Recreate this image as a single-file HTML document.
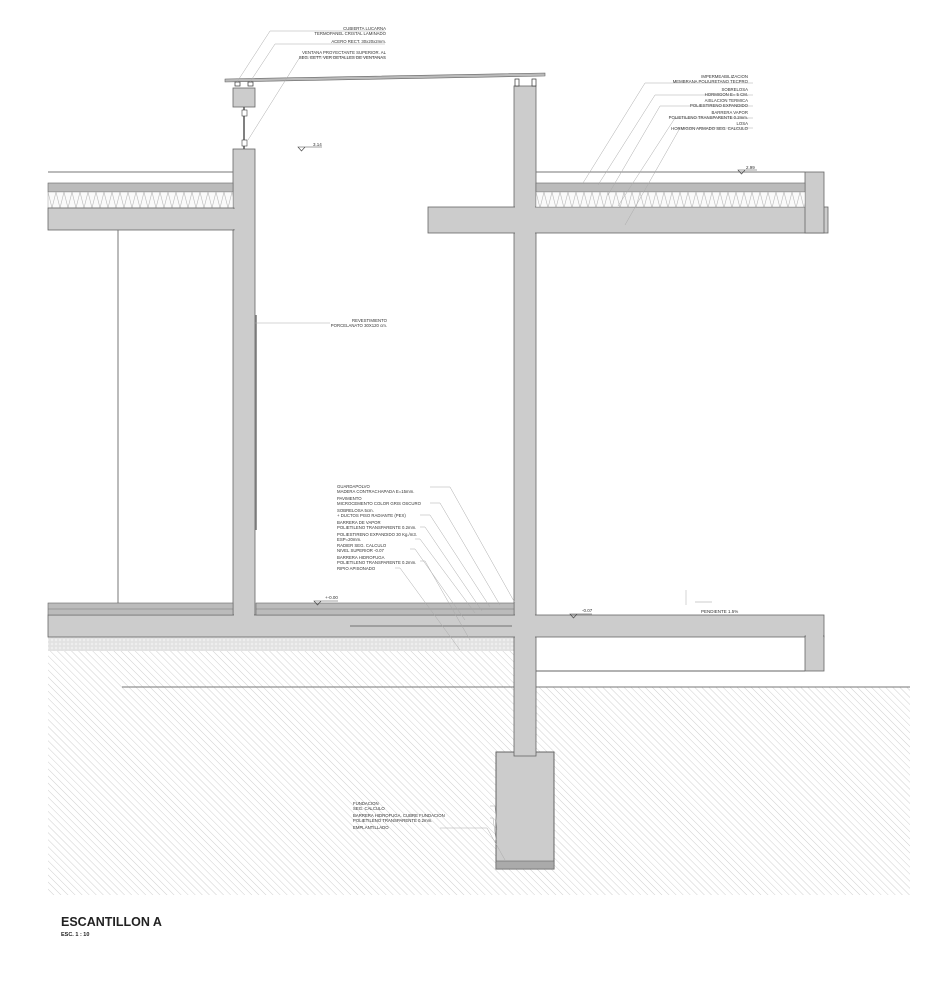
<!DOCTYPE html>
<html><head><meta charset="utf-8"><style>
html,body{margin:0;padding:0;background:#fff;width:952px;height:1000px;overflow:hidden}
svg text{font-family:"Liberation Sans",sans-serif;fill:#333}
</style></head><body>
<svg width="952" height="1000" viewBox="0 0 952 1000" xmlns="http://www.w3.org/2000/svg">
<defs>
<pattern id="hatch" width="5" height="5" patternUnits="userSpaceOnUse" patternTransform="rotate(-45)">
<line x1="0" y1="0" x2="0" y2="5" stroke="#c4c4c4" stroke-width="0.8"/></pattern>
<pattern id="grav" width="4" height="4" patternUnits="userSpaceOnUse">
<rect width="4" height="4" fill="#eee"/><circle cx="2" cy="2" r="1.2" fill="none" stroke="#c9c9c9" stroke-width="0.5"/></pattern>
<pattern id="zig" width="8" height="16" patternUnits="userSpaceOnUse">
<rect width="8" height="16" fill="#fafafa"/><path d="M0 0 L4 16 L8 0" fill="none" stroke="#bbb" stroke-width="0.6"/></pattern>
</defs>
<!-- soil -->
<rect x="48" y="650" width="466" height="245" fill="url(#hatch)"/>
<rect x="514" y="687" width="396" height="208" fill="url(#hatch)"/>
<rect x="48" y="637" width="466" height="14" fill="url(#grav)"/>
<line x1="122" y1="687" x2="910" y2="687" stroke="#777" stroke-width="1"/>
<!-- footing -->
<rect x="496" y="752" width="58" height="117" fill="#ccc" stroke="#666"/>
<rect x="496" y="861" width="58" height="8" fill="#aaa" stroke="#666" stroke-width="0.6"/>
<!-- right wall -->
<rect x="514" y="86" width="22" height="670" fill="#ccc" stroke="#666" stroke-width="0.8"/>
<rect x="515" y="750" width="20" height="4" fill="#ccc"/>
<!-- left wall -->
<rect x="233" y="149" width="22" height="466" fill="#ccc" stroke="#666" stroke-width="0.8"/>
<rect x="233" y="88" width="22" height="19" fill="#ccc" stroke="#666" stroke-width="0.8"/>
<line x1="244" y1="107" x2="244" y2="149" stroke="#555" stroke-width="1.5"/>
<rect x="242" y="110" width="5" height="6" fill="#fff" stroke="#444" stroke-width="0.6"/>
<rect x="242" y="140" width="5" height="6" fill="#fff" stroke="#444" stroke-width="0.6"/>
<!-- roof glass -->
<polygon points="225,79 545,73 545,76 225,82" fill="#bbb" stroke="#666" stroke-width="0.6"/>
<rect x="235" y="82" width="5" height="4" fill="#fff" stroke="#333" stroke-width="0.7"/>
<rect x="248" y="82" width="5" height="4" fill="#fff" stroke="#333" stroke-width="0.7"/>
<rect x="515" y="79" width="4" height="7" fill="#fff" stroke="#333" stroke-width="0.7"/>
<rect x="532" y="79" width="4" height="7" fill="#fff" stroke="#333" stroke-width="0.7"/>
<!-- left roof slab -->
<line x1="48" y1="172" x2="233" y2="172" stroke="#777"/>
<rect x="48" y="183" width="185" height="9" fill="#bbb" stroke="#666" stroke-width="0.6"/>
<rect x="48" y="192" width="185" height="16" fill="url(#zig)" stroke="#888" stroke-width="0.4"/>
<rect x="48" y="208" width="186" height="22" fill="#ccc" stroke="#666" stroke-width="0.8"/>
<rect x="232" y="209" width="3" height="20" fill="#ccc"/>
<line x1="118" y1="230" x2="118" y2="605" stroke="#777"/>
<!-- right roof -->
<rect x="428" y="207" width="400" height="26" fill="#ccc" stroke="#666" stroke-width="0.8"/>
<rect x="805" y="172" width="19" height="61" fill="#ccc" stroke="#666" stroke-width="0.8"/>
<rect x="515" y="205" width="20" height="30" fill="#ccc"/>
<rect x="806" y="205" width="17" height="4" fill="#ccc"/>
<rect x="536" y="183" width="269" height="9" fill="#bbb" stroke="#666" stroke-width="0.6"/>
<rect x="536" y="192" width="269" height="15" fill="url(#zig)" stroke="#888" stroke-width="0.4"/>
<line x1="536" y1="172" x2="805" y2="172" stroke="#777"/>
<!-- floor -->
<rect x="48" y="615" width="776" height="22" fill="#ccc" stroke="#666" stroke-width="0.8"/>
<rect x="805" y="636" width="19" height="35" fill="#ccc" stroke="#666" stroke-width="0.8"/>
<rect x="806" y="634" width="17" height="4" fill="#ccc"/>
<line x1="536" y1="671" x2="805" y2="671" stroke="#666"/>
<rect x="515" y="612" width="20" height="27" fill="#ccc"/>
<rect x="234" y="612" width="20" height="5" fill="#ccc"/>
<rect x="48" y="603" width="185" height="12" fill="#bbb" stroke="#666" stroke-width="0.6"/>
<rect x="256" y="603" width="258" height="12" fill="#bbb" stroke="#666" stroke-width="0.6"/>
<line x1="48" y1="609" x2="233" y2="609" stroke="#777" stroke-width="0.5"/>
<line x1="256" y1="609" x2="514" y2="609" stroke="#777" stroke-width="0.5"/>
<line x1="350" y1="626" x2="512" y2="626" stroke="#555" stroke-width="0.8"/>
<line x1="256" y1="315" x2="256" y2="530" stroke="#777" stroke-width="1.5"/>
<!-- leader lines -->
<g stroke="#aaa" stroke-width="0.5" fill="none">
<polyline points="385,31 270,31 237,82"/><polyline points="385,44 275,44 250,82"/>
<polyline points="385,57 300,57 248,140"/>
<polyline points="255,323 330,323"/>
<polyline points="753,83 645,83 583,183"/><polyline points="753,95 655,95 598,185"/>
<polyline points="753,106 660,106 608,195"/><polyline points="753,118 675,118 618,206"/>
<polyline points="753,128 680,128 625,225"/>
<polyline points="430,487 450,487 515,603"/><polyline points="430,503 440,503 500,605"/>
<polyline points="420,515 430,515 490,607"/><polyline points="420,527 425,527 482,611"/>
<polyline points="415,539 420,539 475,613"/><polyline points="410,549 415,549 465,620"/>
<polyline points="420,561 425,561 470,640"/><polyline points="395,568 400,568 460,650"/>
<polyline points="490,806 495,806 497,830"/><polyline points="490,818 493,818 496,840"/>
<polyline points="440,828 487,828 505,860"/>
<polyline points="686,590 686,605"/>
</g>
<line x1="695" y1="602" x2="712" y2="602" stroke="#999" stroke-width="0.6"/>
<!-- level markers -->
<g stroke="#444" stroke-width="0.6" fill="none">
<path d="M298 147 L305 147 L301.5 151 Z M301 147 L322 147"/>
<path d="M738 170 L745 170 L741.5 174 Z M741 170 L757 170"/>
<path d="M314 601 L321 601 L317.5 605 Z M317 601 L338 601"/>
<path d="M570 614 L577 614 L573.5 618 Z M573 614 L592 614"/>
</g>
<g font-size="4.5">
<text x="313" y="146">3.14</text><text x="746" y="169">2.99</text>
<text x="325" y="599">+-0.00</text><text x="582" y="612">-0.07</text>
<text x="701" y="613">PENDIENTE 1.5%</text>
</g>
<g font-size="4.3" text-anchor="end">
<text x="386" y="30">CUBIERTA LUCARNA</text><text x="386" y="35">TERMOPANEL CRISTAL LAMINADO</text>
<text x="386" y="43">ACERO RECT. 30x20x2mm.</text>
<text x="386" y="54">VENTANA PROYECTANTE SUPERIOR. AL</text><text x="386" y="59">SEG. EETT. VER DETALLES DE VENTANAS</text>
<text x="387" y="322">REVESTIMIENTO</text><text x="387" y="327">PORCELANATO 30X120 cm.</text>
<text x="748" y="78">IMPERMEABILIZACION</text><text x="748" y="83">MEMBRANA POLIURETANO TECPRO</text>
<text x="748" y="91">SOBRELOSA</text><text x="748" y="96">HORMIGON E= 5 CM.</text>
<text x="748" y="102">AISLACION TERMICA</text><text x="748" y="107">POLIESTIRENO EXPANDIDO</text>
<text x="748" y="114">BARRERA VAPOR</text><text x="748" y="119">POLIETILENO TRANSPARENTE 0.2mm.</text>
<text x="748" y="125">LOSA</text><text x="748" y="130">HORMIGON ARMADO SEG. CALCULO</text>
</g>
<g font-size="4.3">
<text x="337" y="488">GUARDAPOLVO</text><text x="337" y="493">MADERA CONTRACHAPADA E=15mm.</text>
<text x="337" y="500">PAVIMENTO</text><text x="337" y="505">MICROCEMENTO COLOR GRIS OSCURO</text>
<text x="337" y="512">SOBRELOSA 5cm.</text><text x="337" y="517">+ DUCTOS PISO RADIANTE (PEX)</text>
<text x="337" y="524">BARRERA DE VAPOR</text><text x="337" y="529">POLIETILENO TRANSPARENTE 0.2mm.</text>
<text x="337" y="536">POLIESTIRENO EXPANDIDO 30 Kg./m3.</text><text x="337" y="541">ESP=20mm.</text>
<text x="337" y="547">RADIER SEG. CALCULO</text><text x="337" y="552">NIVEL SUPERIOR -0.07</text>
<text x="337" y="559">BARRERA HIDROFUGA</text><text x="337" y="564">POLIETILENO TRANSPARENTE 0.2mm.</text>
<text x="337" y="570">RIPIO APISONADO</text>
<text x="353" y="805">FUNDACION</text><text x="353" y="810">SEG. CALCULO</text>
<text x="353" y="817">BARRERA HIDROFUGA. CUBRE FUNDACION</text><text x="353" y="822">POLIETILENO TRANSPARENTE 0.2mm.</text>
<text x="353" y="829">EMPLANTILLADO</text>
</g>
<text x="61" y="926" font-size="12.5" font-weight="bold" style="fill:#222">ESCANTILLON A</text>
<text x="61" y="936" font-size="5.5" font-weight="bold" style="fill:#222">ESC. 1 : 10</text>
</svg>
</body></html>
